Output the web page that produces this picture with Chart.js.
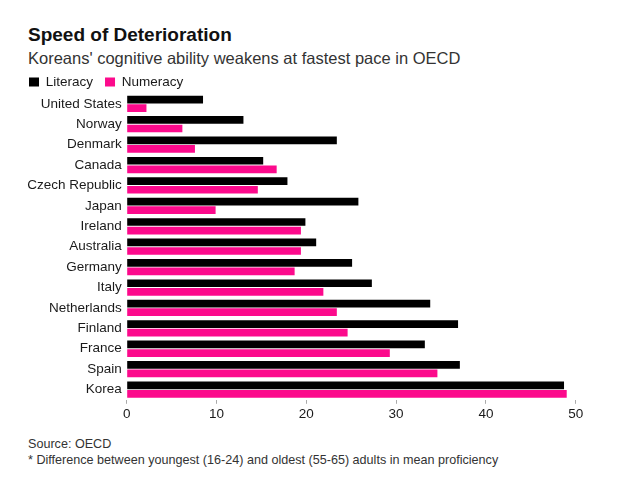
<!DOCTYPE html>
<html>
<head>
<meta charset="utf-8">
<script src="https://cdn.jsdelivr.net/npm/chart.js@4"></script>
<style>
  html, body { margin: 0; padding: 0; background: #fff; }
  body { width: 620px; height: 482px; position: relative; overflow: hidden; font-family: "Liberation Sans", Arial, sans-serif; }
  .t { position: absolute; left: 28px; white-space: nowrap; }
  #title { top: 24.6px; font-size: 19px; line-height: 19px; font-weight: bold; color: #111; }
  #subtitle { top: 50px; font-size: 16.5px; line-height: 16.5px; color: #333; }
  #source { top: 437.5px; font-size: 12.6px; line-height: 12.6px; color: #333; }
  #note { top: 454px; font-size: 12.6px; line-height: 12.6px; color: #333; }
  #wrap { position: absolute; left: 0; top: 62px; width: 620px; height: 362px; }
</style>
</head>
<body>
<div id="title" class="t">Speed of Deterioration</div>
<div id="subtitle" class="t">Koreans' cognitive ability weakens at fastest pace in OECD</div>
<div id="wrap"><canvas id="c"></canvas></div>
<div id="source" class="t">Source: OECD</div>
<div id="note" class="t">* Difference between youngest (16-24) and oldest (55-65) adults in mean proficiency</div>
<script>
const categories = ['United States','Norway','Denmark','Canada','Czech Republic','Japan','Ireland','Australia','Germany','Italy','Netherlands','Finland','France','Spain','Korea'];
const literacy = [8.5, 13.0, 23.4, 15.2, 17.9, 25.8, 19.9, 21.1, 25.1, 27.3, 33.8, 36.9, 33.2, 37.1, 48.7];
const numeracy = [2.2, 6.2, 7.6, 16.7, 14.6, 9.9, 19.4, 19.4, 18.7, 21.9, 23.4, 24.6, 29.3, 34.6, 49.0];
const xTicks = [0, 10, 20, 30, 40, 50];

const FONT = '"Liberation Sans", Arial, sans-serif';
Chart.defaults.font.family = FONT;

const legendFitPlugin = {
  id: 'legendFit',
  afterInit(chart) {
    const lg = chart.legend;
    if (!lg) return;
    const orig = lg.fit.bind(lg);
    lg.fit = function () { orig(); this.height = 30.35; };
  }
};

new Chart(document.getElementById('c'), {
  type: 'bar',
  data: {
    labels: categories,
    datasets: [
      { label: 'Literacy', data: literacy, backgroundColor: '#000000', borderWidth: 0, barPercentage: 0.9, categoryPercentage: 0.84 },
      { label: 'Numeracy', data: numeracy, backgroundColor: '#fc0a8c', borderWidth: 0, barPercentage: 0.9, categoryPercentage: 0.84 }
    ]
  },
  options: {
    indexAxis: 'y',
    responsive: true,
    maintainAspectRatio: false,
    animation: false,
    layout: { padding: { left: 17, right: 44.3, top: 1.25, bottom: 0 } },
    plugins: {
      tooltip: { enabled: false },
      title: { display: false },
      legend: {
        display: true,
        position: 'top',
        align: 'start',
        labels: {
          boxWidth: 10,
          boxHeight: 9,
          padding: 12,
          color: '#1a1a1a',
          font: { size: 13.5, family: FONT }
        }
      }
    },
    scales: {
      x: {
        type: 'linear',
        min: 0,
        max: 50,
        afterBuildTicks(scale) { scale.ticks = xTicks.map(v => ({ value: v })); },
        grid: { display: true, drawOnChartArea: false, drawTicks: true, tickLength: 4, color: '#aaa', lineWidth: 1 },
        border: { display: false },
        ticks: { padding: 2, color: '#1a1a1a', font: { size: 13.5, family: FONT }, maxRotation: 0 }
      },
      y: {
        grid: { display: false, drawTicks: false },
        border: { display: false },
        ticks: { padding: 5, color: '#1a1a1a', font: { size: 13.5, family: FONT }, autoSkip: false },
        afterFit(scale) { scale.width = 109.7; }
      }
    }
  },
  plugins: [legendFitPlugin]
});
</script>
</body>
</html>
